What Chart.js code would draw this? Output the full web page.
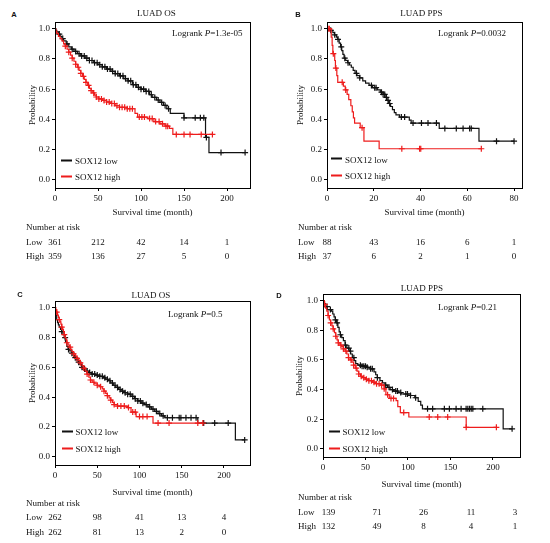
<!DOCTYPE html>
<html>
<head>
<meta charset="utf-8">
<script src="https://cdn.jsdelivr.net/npm/chart.js@4.4.1/dist/chart.umd.min.js"></script>
<style>
  html, body { margin:0; padding:0; background:#fff; }
  body { width:550px; height:543px; position:relative; overflow:hidden;
         font-family:"Liberation Serif","Times New Roman",serif; font-size:9px; color:#111; }
  canvas { position:absolute; }
  .t { position:absolute; white-space:nowrap; line-height:1; }
  .tag { font-family:"Liberation Sans",Arial,sans-serif; font-weight:bold; font-size:7.5px; color:#111; }
  .key { display:inline-block; width:11px; height:2px; vertical-align:middle; margin-right:3px; position:relative; top:-1px; }
</style>
</head>
<body>
<script>
/* ============================
   Data
   ============================ */
// [time (month), survival] after each step; last pair = last follow-up
const aLow = [[0,1],[1,0.99],[2,0.98],[4,0.965],[6,0.95],[8,0.935],[10,0.92],[13,0.9],[16,0.88],[19,0.865],[22,0.85],[26,0.835],[30,0.82],[35,0.805],[40,0.79],[45,0.775],[50,0.762],[55,0.748],[60,0.733],[65,0.718],[70,0.703],[75,0.688],[80,0.67],[85,0.655],[90,0.63],[95,0.612],[100,0.6],[105,0.585],[110,0.563],[113,0.545],[118,0.528],[122,0.512],[126,0.492],[130,0.47],[134,0.44],[150,0.41],[175,0.28],[179,0.18],[221,0.18]];
const aHigh = [[0,1],[1,0.985],[2,0.97],[4,0.95],[6,0.935],[8,0.92],[10,0.9],[12,0.885],[14,0.865],[16,0.845],[18,0.825],[20,0.805],[22,0.785],[24,0.765],[26,0.745],[28,0.725],[30,0.705],[32,0.685],[34,0.665],[36,0.645],[38,0.625],[40,0.605],[42,0.59],[44,0.575],[46,0.56],[48,0.548],[51,0.535],[55,0.525],[60,0.515],[65,0.505],[70,0.49],[75,0.48],[84,0.47],[93,0.44],[96,0.415],[108,0.405],[115,0.385],[122,0.37],[128,0.355],[133,0.34],[137,0.3],[183,0.3]];
const aLowCens = [5,9,14,20,24,28,31,34,37,40,43,46,49,52,55,58,61,64,67,70,73,76,79,82,85,88,91,94,97,100,103,106,109,112,116,120,124,128,132,150,163,169,173,176,193,221];
const aHighCens = [12,16,20,24,27,30,33,36,39,42,45,48,51,54,57,60,63,66,69,72,75,78,81,84,87,90,98,101,104,110,113,117,121,125,129,131,141,150,157,170,183];

const bLow = [[0,1],[1.5,0.99],[2.5,0.975],[3.2,0.96],[4,0.945],[4.6,0.93],[5.2,0.905],[5.8,0.88],[6.3,0.855],[6.8,0.83],[7.3,0.805],[8,0.79],[8.8,0.775],[9.6,0.76],[10.4,0.745],[11.2,0.725],[12,0.705],[12.8,0.69],[14,0.675],[15.3,0.655],[16.5,0.64],[18,0.625],[19.5,0.61],[21.5,0.595],[22.8,0.58],[24,0.565],[24.8,0.545],[25.6,0.525],[26.4,0.505],[27.2,0.485],[28,0.465],[28.8,0.445],[29.5,0.43],[31,0.415],[35.2,0.395],[36,0.375],[48,0.34],[65,0.255],[80,0.255]];
const bHigh = [[0,1],[1.8,0.945],[2.2,0.89],[2.5,0.835],[3.3,0.79],[3.6,0.74],[4.2,0.69],[4.6,0.645],[7,0.62],[7.8,0.595],[8.6,0.565],[9.3,0.53],[10.2,0.49],[10.8,0.45],[11.3,0.41],[11.8,0.375],[14.2,0.345],[15.8,0.255],[22.3,0.205],[66,0.205]];
const bLowCens = [1.6,3.3,4.7,6.1,7.6,9,12.6,14,19,20.4,21,23.3,24,24.7,25.4,26.1,26.8,31.8,33.2,36.8,40.4,43.2,46.8,50.4,55.3,58.2,61,61.7,72.5,80];
const bHighCens = [0.5,1,2.7,3.8,6.5,8,15,32,39.6,40.1,66];

const cLow = [[0,1],[0.5,0.97],[1,0.95],[2,0.92],[3,0.9],[4,0.885],[5,0.87],[6.5,0.855],[8,0.84],[9.5,0.82],[11,0.8],[12.5,0.77],[14,0.74],[15.5,0.72],[17.5,0.71],[19.5,0.695],[21.5,0.68],[23.5,0.665],[25.5,0.65],[27.5,0.635],[29.5,0.62],[31.5,0.6],[33.5,0.59],[36,0.575],[39,0.565],[43,0.555],[48,0.548],[53,0.54],[57,0.53],[60,0.52],[63,0.51],[66,0.495],[69,0.48],[72,0.465],[75,0.452],[78,0.44],[82,0.43],[86,0.42],[90,0.405],[94,0.39],[98,0.375],[102,0.36],[106,0.35],[110,0.335],[114,0.32],[118,0.305],[122,0.29],[126,0.275],[130,0.262],[169,0.226],[213.5,0.113],[224.5,0.113]];
const cHigh = [[0,1],[1,0.985],[2,0.97],[3,0.95],[4,0.935],[5,0.92],[6,0.905],[7,0.89],[8,0.87],[9,0.855],[10,0.84],[11,0.82],[12,0.8],[13,0.785],[14,0.765],[15.5,0.75],[17,0.735],[18.5,0.72],[20,0.705],[22,0.69],[24,0.675],[26,0.66],[28,0.645],[30,0.63],[32,0.61],[34,0.595],[36,0.575],[38,0.555],[40,0.535],[42,0.515],[44,0.5],[47,0.49],[50,0.48],[53,0.47],[56,0.455],[58,0.44],[60,0.425],[62,0.41],[64,0.395],[66,0.38],[68,0.365],[70,0.35],[74,0.34],[86,0.33],[90,0.3],[96,0.27],[116,0.226],[175,0.226]];
const cLowCens = [8,12,16,20,24,28,32,35,38,41,44,47,50,53,56,59,62,65,68,71,74,77,80,83,86,89,92,95,98,101,104,108,112,116,120,124,128,133,139,147,149,155,161,167,176,189,205,224.5];
const cHighCens = [2,5,8,11,14,18,22,26,30,34,38,42,46,50,54,58,62,66,70,74,78,82,87,92,95,100,104,109,122,135,169,175];

const dLow = [[0,1],[1.5,0.98],[3,0.96],[5,0.94],[10,0.93],[11.5,0.91],[13,0.89],[14.5,0.87],[16,0.85],[17.5,0.82],[19,0.79],[20.5,0.77],[22,0.75],[24,0.73],[26,0.7],[28,0.68],[30.5,0.66],[32.5,0.64],[34.5,0.615],[36.5,0.595],[38.5,0.575],[41,0.565],[46,0.558],[52,0.55],[56,0.54],[60,0.52],[62,0.5],[64,0.48],[67,0.46],[70,0.445],[73,0.43],[76,0.415],[79,0.4],[83,0.39],[88,0.38],[92,0.37],[103,0.36],[108,0.345],[112,0.32],[115,0.295],[117,0.27],[212,0.135],[222.5,0.135]];
const dHigh = [[0,1],[1.5,0.975],[3,0.95],[4.5,0.93],[6,0.9],[7.5,0.87],[9,0.85],[10.5,0.83],[12,0.81],[13.5,0.785],[15,0.76],[16.5,0.735],[18,0.715],[20,0.7],[22,0.69],[24,0.675],[26,0.66],[28,0.64],[30,0.615],[32,0.6],[34,0.585],[36,0.565],[38,0.545],[40,0.525],[42,0.505],[44,0.49],[47,0.48],[50,0.47],[54,0.46],[58,0.45],[62,0.44],[68,0.43],[72,0.405],[74,0.365],[78,0.34],[86,0.325],[88,0.285],[91,0.245],[101,0.215],[168.5,0.145],[204,0.145]];
const dLowCens = [4.7,8.7,14.6,16.6,20.5,26.4,30.4,32.3,36.3,44,46,48,50,52,56,58,64,73.8,77.7,81.7,85.6,87.6,91.5,97.4,99.4,103,109,123,129,142.8,148.7,156.6,162.5,168.4,170.4,172.4,174.4,176.3,188,222.5];
const dHighCens = [2,6,9,12,15,18,21,24,27,30,33,36,39,42,45,48,51,54,57,60,63,66,69,72,76,80,83,95,125,135,146.7,168.5,204];

// number at risk
const aRiskLow = [361,212,42,14,1],  aRiskHigh = [359,136,27,5,0];
const bRiskLow = [88,43,16,6,1],     bRiskHigh = [37,6,2,1,0];
const cRiskLow = [262,98,41,13,4],   cRiskHigh = [262,81,13,2,0];
const dRiskLow = [139,71,26,11,3],   dRiskHigh = [132,49,8,4,1];

const yTicks = [0,0.2,0.4,0.6,0.8,1.0];
const months200 = [0,50,100,150,200];
const months80 = [0,20,40,60,80];

/* ============================
   Layout
   ============================ */
const AXW = 30, AXH = 22, PADT = 10, PADR = 10;
const Y_MIN = -0.055, Y_MAX = 1.045;
const BLACK = '#111', RED = '#ee1c1c';

const panels = [
  { tag:'A', title:'LUAD OS', p:'1.3e-05', area:{l:55,t:22,r:250,b:188}, xMax:226.7, xTicks:months200,
    low:aLow, high:aHigh, lowCens:aLowCens, highCens:aHighCens, riskLow:aRiskLow, riskHigh:aRiskHigh,
    tagAt:[14,15], titleAt:[156.5,13], pAt:[172,33], yTitleX:32, key:[6,-27,-11],
    rowX:26, rows:[212,227,242,256] },
  { tag:'B', title:'LUAD PPS', p:'0.0032', area:{l:327,t:22,r:522,b:188}, xMax:83.4, xTicks:months80,
    low:bLow, high:bHigh, lowCens:bLowCens, highCens:bHighCens, riskLow:bRiskLow, riskHigh:bRiskHigh,
    tagAt:[298,15], titleAt:[421.5,13], pAt:[438,32.5], yTitleX:300, key:[4,-28.5,-12],
    rowX:298, rows:[212,227,242,256] },
  { tag:'C', title:'LUAD OS', p:'0.5', area:{l:55,t:301,r:250,b:465}, xMax:230.8, xTicks:months200,
    low:cLow, high:cHigh, lowCens:cLowCens, highCens:cHighCens, riskLow:cRiskLow, riskHigh:cRiskHigh,
    tagAt:[20,295], titleAt:[151,295], pAt:[168,314], yTitleX:32, key:[6.5,-33,-16],
    rowX:26, rows:[492,503,517,532] },
  { tag:'D', title:'LUAD PPS', p:'0.21', area:{l:323,t:294,r:520,b:457}, xMax:231.8, xTicks:months200,
    low:dLow, high:dHigh, lowCens:dLowCens, highCens:dHighCens, riskLow:dRiskLow, riskHigh:dRiskHigh,
    tagAt:[279,296], titleAt:[422,288], pAt:[438,307], yTitleX:299, key:[5.5,-25,-8],
    rowX:298, rows:[484,497,512,526], riskCols:[5.5,54,100.5,148,192] }
];

Chart.defaults.font.family = '"Liberation Serif","Times New Roman",serif';
Chart.defaults.font.size = 9;
Chart.defaults.color = '#111';

/* helpers */
function survAt(curve, t){
  let s = curve[0][1];
  curve.forEach(([ct, cs]) => { if (ct <= t) s = cs; });
  return s;
}
function put(html, x, y, cls, align){
  const d = document.createElement('div');
  d.className = 't ' + (cls || '');
  d.innerHTML = html;
  d.style.left = x + 'px';
  d.style.top = y + 'px';
  const tx = align === 'center' ? '-50%' : align === 'right' ? '-100%' : '0';
  d.style.transform = `translate(${tx},-50%)`;
  document.body.appendChild(d);
  return d;
}

const boxPlugin = {
  id: 'box',
  afterDraw(c){
    const a = c.chartArea, ctx = c.ctx;
    ctx.save();
    ctx.strokeStyle = '#000'; ctx.lineWidth = 1;
    ctx.strokeRect(Math.round(a.left) + 0.5, Math.round(a.top) + 0.5,
                   Math.round(a.right - a.left), Math.round(a.bottom - a.top));
    ctx.restore();
  }
};

/* ============================
   Rendering
   ============================ */
function buildPanel(p){
  const ox = p.area.l - AXW, oy = p.area.t - PADT;
  const cv = document.createElement('canvas');
  cv.width = p.area.r - p.area.l + AXW + PADR;
  cv.height = p.area.b - p.area.t + PADT + AXH;
  cv.style.left = ox + 'px';
  cv.style.top = oy + 'px';
  document.body.appendChild(cv);

  const line = (curve, color) => ({
    data: curve.map(([x, y]) => ({x, y})), borderColor: color, borderWidth: 1.2,
    stepped: true, pointRadius: 0, fill: false
  });
  const marks = (curve, times, color) => ({
    data: times.map(t => ({x: t, y: survAt(curve, t)})), showLine: false,
    pointStyle: 'cross', pointRadius: 3, borderColor: color, borderWidth: 1.2
  });

  const axisCommon = {
    grid: { drawOnChartArea: false, drawTicks: true, tickLength: 3, color: '#000' },
    border: { display: false },
  };

  const chart = new Chart(cv, {
    type: 'line',
    data: { datasets: [
      line(p.high, RED), marks(p.high, p.highCens, RED),
      line(p.low, BLACK), marks(p.low, p.lowCens, BLACK)
    ]},
    options: {
      responsive: false, animation: false, events: [],
      layout: { padding: { left: 0, top: PADT, right: PADR, bottom: 0 } },
      plugins: { legend: { display: false }, tooltip: { enabled: false } },
      scales: {
        x: { ...axisCommon, type: 'linear', min: 0, max: p.xMax,
             afterFit: s => { s.height = AXH; },
             afterBuildTicks: s => { s.ticks = p.xTicks.map(v => ({value: v})); },
             ticks: { padding: 2, maxRotation: 0, autoSkip: false, callback: v => String(v) } },
        y: { ...axisCommon, type: 'linear', min: Y_MIN, max: Y_MAX,
             afterFit: s => { s.width = AXW; },
             afterBuildTicks: s => { s.ticks = yTicks.map(v => ({value: v})); },
             ticks: { padding: 2, autoSkip: false, callback: v => v.toFixed(1) } }
      }
    },
    plugins: [boxPlugin]
  });

  // texts around the plot
  const a = chart.chartArea;
  const L = ox + a.left, R = ox + a.right, T = oy + a.top, B = oy + a.bottom;
  const xs = chart.scales.x;

  put(p.tag, p.tagAt[0], p.tagAt[1], 'tag', 'center');
  put(p.title, p.titleAt[0], p.titleAt[1], '', 'center');
  put('Logrank <i>P</i>=' + p.p, p.pAt[0], p.pAt[1]);
  const yt = put('Probability', p.yTitleX, (T + B) / 2, '', 'center');
  yt.style.transform = 'translate(-50%,-50%) rotate(-90deg)';

  put(`<span class="key" style="background:${BLACK}"></span>SOX12 low`, L + p.key[0], B + p.key[1]);
  put(`<span class="key" style="background:${RED}"></span>SOX12 high`, L + p.key[0], B + p.key[2]);

  put('Survival time (month)', (L + R) / 2, p.rows[0], '', 'center');
  put('Number at risk', p.rowX, p.rows[1]);
  put('Low', p.rowX, p.rows[2]);
  put('High', p.rowX, p.rows[3]);
  const cols = p.riskCols ? p.riskCols.map(c => L + c) : p.xTicks.map(v => ox + xs.getPixelForValue(v));
  cols.forEach((cx, i) => {
    put(String(p.riskLow[i]), cx, p.rows[2], '', 'center');
    put(String(p.riskHigh[i]), cx, p.rows[3], '', 'center');
  });
}

panels.forEach(buildPanel);
</script>
</body>
</html>
